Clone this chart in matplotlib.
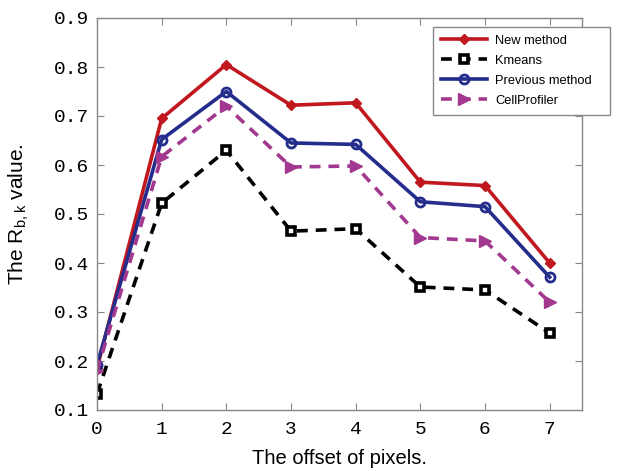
import matplotlib
matplotlib.use("Agg")
import matplotlib.pyplot as plt

x = [0, 1, 2, 3, 4, 5, 6, 7]
new_method = [0.185, 0.695, 0.805, 0.722, 0.727, 0.565, 0.558, 0.400]
kmeans = [0.133, 0.522, 0.630, 0.465, 0.470, 0.351, 0.345, 0.257]
previous = [0.192, 0.652, 0.750, 0.645, 0.642, 0.525, 0.515, 0.371]
cellprofiler = [0.180, 0.617, 0.720, 0.596, 0.598, 0.452, 0.445, 0.320]
yticks = [0.1, 0.2, 0.3, 0.4, 0.5, 0.6, 0.7, 0.8, 0.9]

fig = plt.figure(figsize=(6.19, 4.71), dpi=100)
ax = fig.add_axes([97/619, 1-410/471, (582-97)/619, (410-18)/471])

ax.plot(x, new_method, color='#c0181e', lw=2.6, marker='D', ms=5.5, mfc='#c0181e', mec='#c0181e', label='New method')
ax.plot(x, kmeans, color='black', lw=2.6, ls=(0, (3, 2.2)), marker='s', ms=6, mfc='white', mec='black', mew=2.6, label='Kmeans')
ax.plot(x, previous, color='#242c8c', lw=2.6, marker='o', ms=6.5, mfc='none', mec='#242c8c', mew=2.0, label='Previous method')
ax.plot(x, cellprofiler, color='#a2388f', lw=2.6, ls=(0, (3, 2.2)), marker='>', ms=8.5, mfc='#a2388f', mec='#a2388f', label='CellProfiler')

ax.set_xlim(0, 7.5)
ax.set_ylim(0.1, 0.9)
ax.set_xticks(x)
ax.set_yticks(yticks)
ax.set_xticklabels([str(v) for v in x], fontfamily='Liberation Mono', fontsize=14)
ax.set_yticklabels([f"{v:.1f}" for v in yticks], fontfamily='Liberation Mono', fontsize=14)
ax.tick_params(axis='y', direction='in', left=True, right=True, length=5, color='#888888', pad=6)
ax.tick_params(axis='x', direction='in', bottom=True, top=True, length=5, color='#888888', pad=8)
for s in ax.spines.values():
    s.set_color('#888888')
    s.set_linewidth(1.0)

ax.set_xlabel('The offset of pixels.', fontfamily='Liberation Sans', fontsize=14.5, labelpad=8)
ax.set_ylabel(r'The R$_{\mathregular{b,k}}$ value.', fontfamily='Liberation Sans', fontsize=15, labelpad=16)

x0 = (433 - 97) / 485
x1 = (610 - 97) / 485
ytop = (410 - 27) / 392
ybot = (410 - 112) / 392
leg = ax.legend(loc='upper left', bbox_to_anchor=(x0, ybot, x1 - x0, ytop - ybot), mode='expand',
                prop={'family': 'Liberation Sans', 'size': 9.3},
                handlelength=3.6, fancybox=False, framealpha=1, edgecolor='#888888', borderpad=0.6, labelspacing=0.62,
                handletextpad=0.6, borderaxespad=0)
leg.get_frame().set_linewidth(1.0)

fig.savefig('out.png', dpi=100)
